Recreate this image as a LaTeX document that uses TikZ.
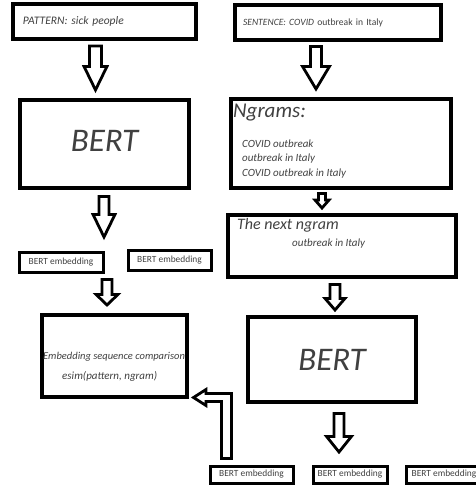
\documentclass[tikz,border=0pt]{standalone}
\usepackage{fontspec}
\setmainfont{Carlito}
\usetikzlibrary{calc,positioning}
\definecolor{txtgray}{RGB}{64,64,64}

\begin{document}
\begin{tikzpicture}[x=1pt,y=-1pt,
	box/.style={draw,line width=3.4pt,inner sep=0pt,outer sep=0pt,text=txtgray},
	embbox/.style={box,line width=3pt,minimum width=#1,minimum height=20pt,font=\fontsize{9.4}{11}\selectfont},
	embbox/.default=84pt,
	txt/.style={inner sep=0pt,text=txtgray,font=\itshape\fontsize{#1}{#1}\selectfont},
	bigtxt/.style={font=\itshape\fontsize{33}{36}\selectfont},
	blockarrow/.style={draw,line width=2.8pt,fill=white}]
	\useasboundingbox (0,0) rectangle (476,490);
	\node[box,minimum height=35pt,text width=163pt,inner xsep=10pt,align=left,font=\itshape\fontsize{11.5}{12}\selectfont] (pattern) at (104.5,21.5) {PATTERN: sick people};
	\node[box,minimum height=35pt,text width=190pt,inner xsep=8pt,align=left,font=\fontsize{9.6}{11}\selectfont] (sentence) at (338,22.5) {\textit{SENTENCE: COVID} outbreak in Italy};
	\node[box,bigtxt,minimum width=169pt,minimum height=88pt,text depth=6pt] (bertL) at (104.5,144) {BERT};
	\node[box,minimum width=220pt,minimum height=89pt] (ngrams) at (341,143.5) {};
	\node[txt=21,anchor=base west] (ngramsTitle) at (233,117) {Ngrams:};
	\foreach \ng [count=\i] in {COVID outbreak,outbreak in Italy,COVID outbreak in Italy}
		\node[txt=11,anchor=base west] (ngram\i) at (242,132.5+14.5*\i) {\ng};
	\node[box,minimum width=228pt,minimum height=62pt] (nextbox) at (342,246) {};
	\node[txt=16,anchor=base west] (nextTitle) at (237,229.5) {The next ngram};
	\node[txt=11,anchor=base west] (nextNgram) at (292,246) {outbreak in Italy};
	\node[embbox] (embL1) at (61,262) {BERT embedding};
	\node[embbox=83pt] (embL2) at (169.5,260.5) {BERT embedding};
	\node[box,minimum width=145pt,minimum height=82pt] (esim) at (114.5,356) {};
	\node[txt=10.5,anchor=base west] (esimLabel) at (43,359) {Embedding sequence comparison};
	\node[txt=11,anchor=base west] (esimFormula) at (62,379) {esim(pattern, ngram)};
	\node[box,bigtxt,minimum width=168pt,minimum height=85pt] (bertR) at (332,359.5) {BERT};
	\node[embbox=83pt,minimum height=17pt] (embB1) at (251.5,474.5) {BERT embedding};
	\node[embbox=74pt,minimum height=17pt] (embB2) at (350,474.5) {BERT embedding};
	\node[embbox=76pt,minimum height=17pt] (embB3) at (444,474.5) {BERT embedding};
	\foreach \src/\dst/\ax/\ga/\gb/\hs/\hh/\hl in {
		pattern/bertL/95.5/7/10/6/11.5/23.6,
		sentence/ngrams/316/6.5/10/5.5/13.5/22.6,
		ngrams/nextbox/322/5.4/7/3.5/7/8,
		nextbox/bertR/335/7.4/7/5/10/11.6,
		bertR/embB2/339/11.4/14/5/12.5/15.6,
		bertL/embL1/104/8.4/15/5/11/22.6,
		embL1/esim/107/7.4/10/5/11/10.6} {
		\draw[blockarrow] let \p1=(\src.south), \p2=(\dst.north) in
			(\ax pt-\hs pt,\y1-\ga pt) -- (\ax pt+\hs pt,\y1-\ga pt)
			-- (\ax pt+\hs pt,\y2+\gb pt+\hl pt) -- (\ax pt+\hh pt,\y2+\gb pt+\hl pt)
			-- (\ax pt,\y2+\gb pt) -- (\ax pt-\hh pt,\y2+\gb pt+\hl pt)
			-- (\ax pt-\hs pt,\y2+\gb pt+\hl pt) -- cycle;
	}
	\draw[blockarrow] let \p1=(embB1.north), \p2=(esim.south east) in
		(\x1-30pt,\y1+7.5pt) -- (\x1-20pt,\y1+7.5pt) -- (\x1-20pt,\y2+3.5pt)
		-- (\x2+19pt,\y2+3.5pt) -- (\x2+19pt,\y2+7.5pt) -- (\x2+6.5pt,\y2-0.5pt)
		-- (\x2+19pt,\y2-8.5pt) -- (\x2+19pt,\y2-4.5pt) -- (\x1-30pt,\y2-4.5pt) -- cycle;
\end{tikzpicture}
\end{document}
